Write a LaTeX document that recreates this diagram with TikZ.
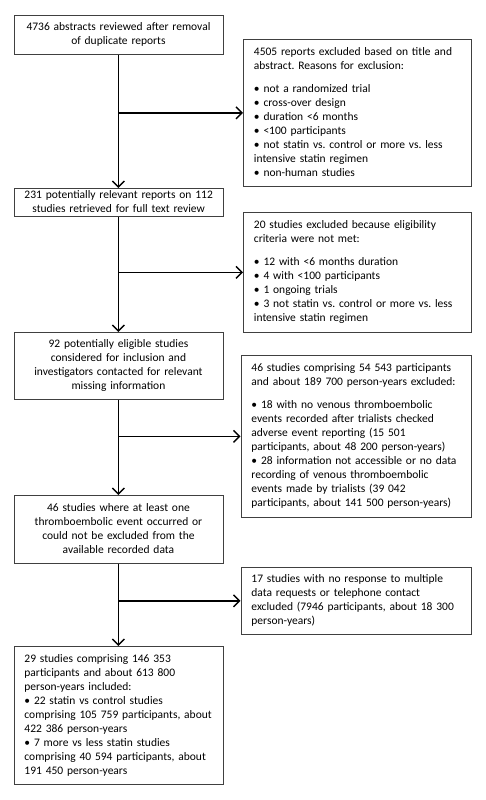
\documentclass[tikz,border=0pt]{standalone}
\usepackage{fontspec}
\setmainfont{Carlito}
\usetikzlibrary{arrows.meta}
\newcommand{\lt}[1]{\begin{tabular}{@{}l@{}}#1\end{tabular}}
\newcommand{\ct}[1]{\begin{tabular}{@{}c@{}}#1\end{tabular}}
\tikzset{
  box/.style={draw=black!75, line width=0.9pt, rectangle, inner xsep=10.5pt, inner ysep=0pt,
    anchor=north west, font=\fontsize{11.5}{14}\selectfont\frenchspacing},
  cbox/.style={box, align=center},
  lbox/.style={box, align=left},
  conn/.style={line width=1.4pt, black, -{Straight Barb[length=6pt,width=12pt,line width=1.4pt]}},
}
\begin{document}
\begin{tikzpicture}[x=1pt,y=-1pt]
\renewcommand{\arraystretch}{1.0}
\useasboundingbox (0,0) rectangle (485,800);
% left boxes
\node[cbox, minimum width=209pt, minimum height=39pt, text width=188pt] (b1) at (13.5,15)
  {\ct{4736 abstracts reviewed after removal\\of duplicate reports}};
\node[cbox, minimum width=209pt, minimum height=28pt, text width=188pt] (b2) at (13.5,188)
  {\ct{231 potentially relevant reports on 112\\studies retrieved for full text review}};
\node[cbox, minimum width=209pt, minimum height=67pt, text width=188pt] (b3) at (13.5,332)
  {\ct{92 potentially eligible studies\\considered for inclusion and\\investigators contacted for relevant\\missing information}};
\node[cbox, minimum width=209pt, minimum height=68pt, text width=188pt] (b4) at (13.5,495)
  {\ct{46 studies where at least one\\thromboembolic event occurred or\\could not be excluded from the\\available recorded data}};
\node[lbox, minimum width=209pt, minimum height=138pt, text width=188pt] (b5) at (13.5,646)
  {\lt{29 studies comprising 146 353\\participants and about 613 800\\person-years included:\\\textbullet\ 22 statin vs control studies\\comprising 105 759 participants, about\\422 386 person-years\\\textbullet\ 7 more vs less statin studies\\comprising 40 594 participants, about\\191 450 person-years}};
% right boxes
\node[lbox, minimum width=228pt, minimum height=147pt, text width=207pt] (r1) at (243,39)
  {\lt{4505 reports excluded based on title and\\abstract. Reasons for exclusion:\\[9pt]\textbullet\ not a randomized trial\\\textbullet\ cross-over design\\\textbullet\ duration <6 months\\\textbullet\ <100 participants\\\textbullet\ not statin vs. control or more vs. less\\intensive statin regimen\\\textbullet\ non-human studies}};
\node[lbox, minimum width=228pt, minimum height=120pt, text width=207pt] (r2) at (243,212)
  {\lt{20 studies excluded because eligibility\\criteria were not met:\\[9pt]\textbullet\ 12 with <6 months duration\\\textbullet\ 4 with <100 participants\\\textbullet\ 1 ongoing trials\\\textbullet\ 3 not statin vs. control or more vs. less\\intensive statin regimen}};
\node[lbox, minimum width=230.5pt, minimum height=162pt, text width=209.5pt] (r3) at (240.5,355)
  {\lt{46 studies comprising 54 543 participants\\and about 189 700 person-years excluded:\\[9pt]\textbullet\ 18 with no venous thromboembolic\\events recorded after trialists checked\\adverse event reporting (15 501\\participants, about 48 200 person-years)\\\textbullet\ 28 information not accessible or no data\\recording of venous thromboembolic\\events made by trialists (39 042\\participants, about 141 500 person-years)}};
\node[lbox, minimum width=230.5pt, minimum height=67pt, text width=209.5pt] (r4) at (240.5,567)
  {\lt{17 studies with no response to multiple\\data requests or telephone contact\\excluded (7946 participants, about 18 300\\person-years)}};
% connectors
\draw[conn] (b1.south) -- (b2.north);
\draw[conn] (b2.south) -- (b3.north);
\draw[conn] (b3.south) -- (b4.north);
\draw[conn] (b4.south) -- (b5.north);
\draw[conn] (b1.south |- r1.west) -- (r1.west);
\draw[conn] (b2.south |- r2.west) -- (r2.west);
\draw[conn] (b3.south |- r3.west) -- (r3.west);
\draw[conn] (b4.south |- r4.west) -- (r4.west);
\end{tikzpicture}
\end{document}
